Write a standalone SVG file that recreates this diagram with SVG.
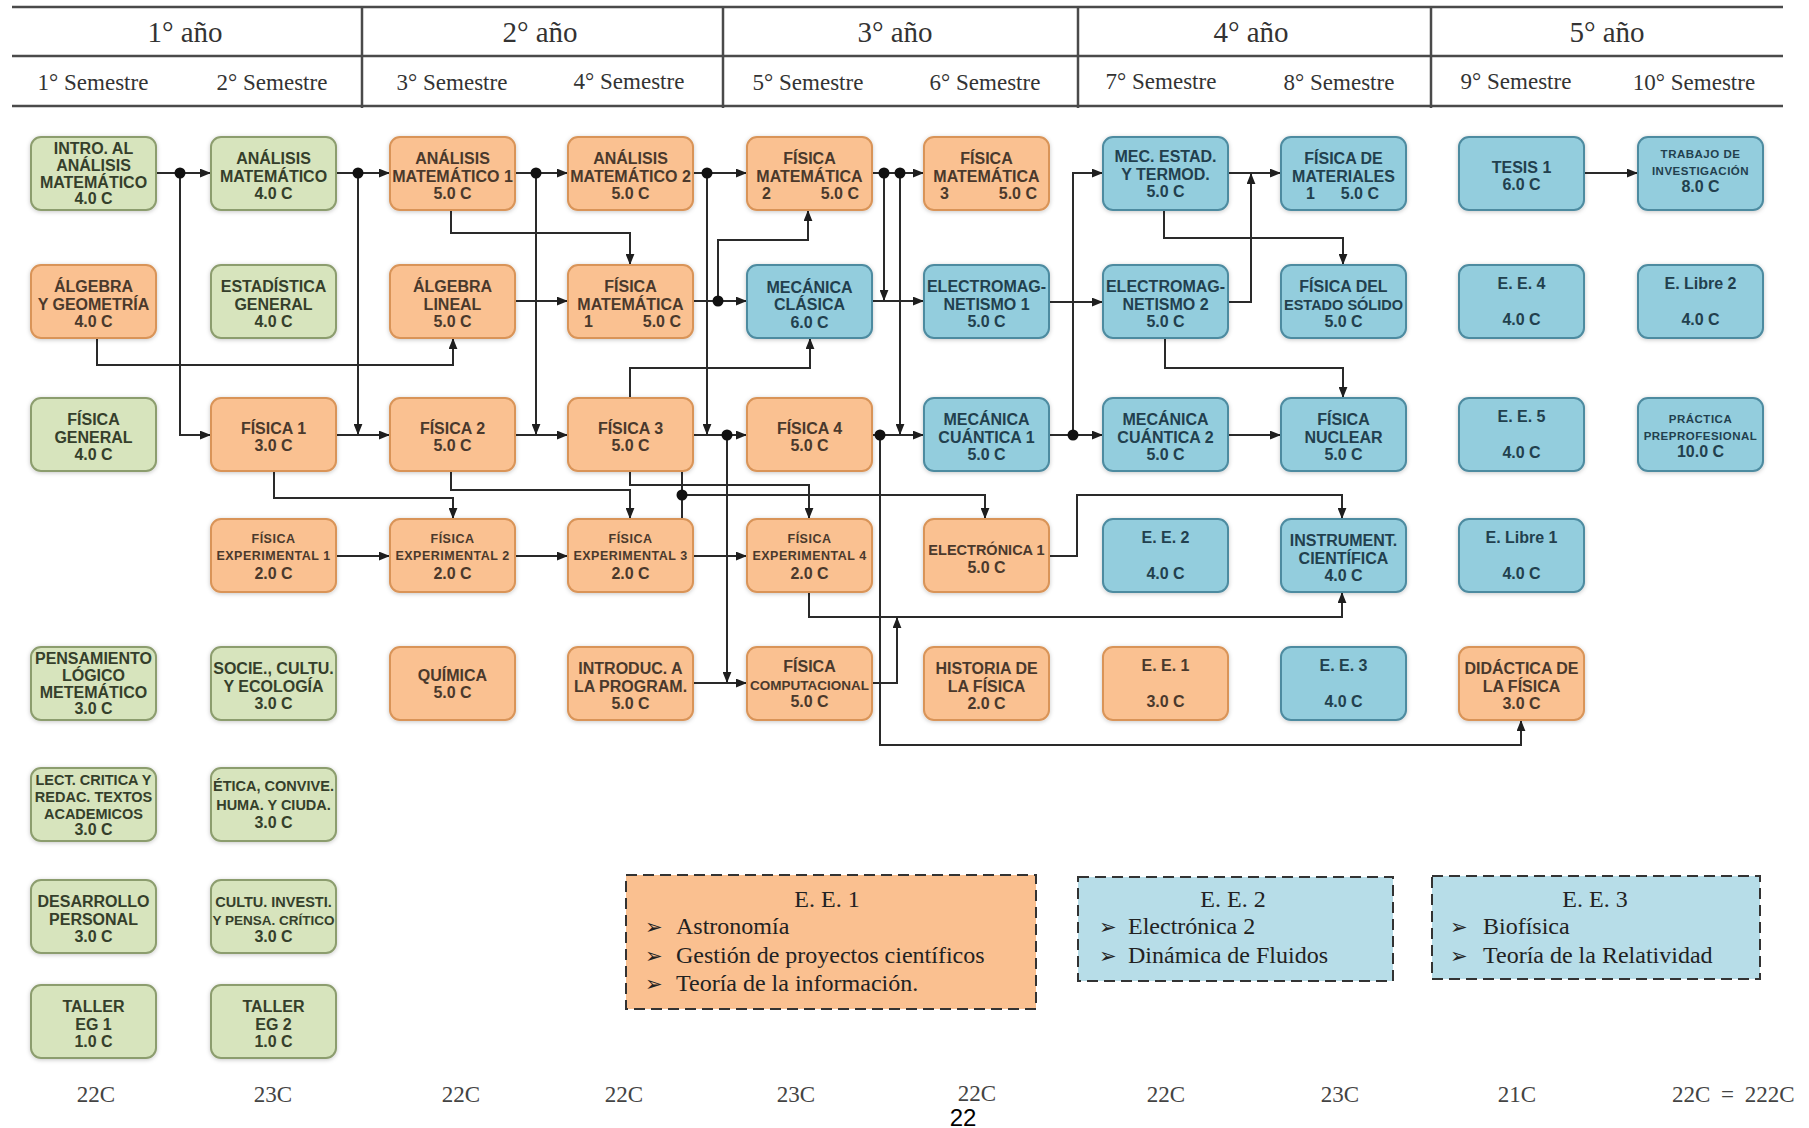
<svg xmlns="http://www.w3.org/2000/svg" width="1809" height="1128" viewBox="0 0 1809 1128">
<style>
.hdr line{stroke:#4a4a4a;stroke-width:2.5}
.yr{font-family:"Liberation Serif","Times New Roman",serif;font-size:29px;fill:#333;text-anchor:middle}
.sem{font-family:"Liberation Serif","Times New Roman",serif;font-size:23px;fill:#333;text-anchor:middle}
.node rect{stroke-width:2;filter:url(#sh)}
.g rect{fill:#d7e4bd;stroke:#8c9d6e}
.o rect{fill:#fac191;stroke:#d99458}
.b rect{fill:#93cddd;stroke:#4d8ba0}
.node text{font-family:"Liberation Sans",Arial,sans-serif;font-weight:bold;font-size:16px;text-anchor:middle}
.g text{fill:#353f2b}
.o text{fill:#4a392c}
.b text{fill:#22404e}
.node text.l{text-anchor:start}
.node text.r{text-anchor:end}
.node text.s14{font-size:14.5px}
.node text.s13{font-size:13.5px}
.node text.sm{font-size:12.5px;letter-spacing:0.5px}
.node text.xs{font-size:11.5px;letter-spacing:0.5px}
.c path{fill:none;stroke:#2a2a2a;stroke-width:2}
.c path.a{marker-end:url(#arr)}
.c circle{fill:#111}
.leg rect{stroke:#333;stroke-width:2;stroke-dasharray:11 6}
.leg text{font-family:"Liberation Serif","Times New Roman",serif;font-size:24px;fill:#222}
.leg text.t{text-anchor:middle}
.leg text.bul{font-family:"DejaVu Sans",sans-serif;font-size:21px;font-weight:bold}
.cr{font-family:"Liberation Serif","Times New Roman",serif;font-size:23px;fill:#444;text-anchor:middle}
</style>
<defs>
<filter id="sh" x="-10%" y="-15%" width="120%" height="135%">
<feDropShadow dx="0" dy="1" stdDeviation="2" flood-color="#000" flood-opacity="0.22"/>
</filter>
<marker id="arr" viewBox="0 0 10 8" refX="10" refY="4" markerWidth="11" markerHeight="9" markerUnits="userSpaceOnUse" orient="auto">
<path d="M0,0 L10,4 L0,8 z" fill="#1e1e1e"/>
</marker>
</defs>
<rect width="1809" height="1128" fill="#fff"/>

<g id="header" class="hdr">
<line x1="12" y1="7" x2="1783" y2="7"/>
<line x1="12" y1="56" x2="1783" y2="56"/>
<line x1="12" y1="106" x2="1783" y2="106"/>
<line x1="362" y1="7" x2="362" y2="108"/>
<line x1="723" y1="7" x2="723" y2="108"/>
<line x1="1078" y1="7" x2="1078" y2="108"/>
<line x1="1431" y1="7" x2="1431" y2="108"/>
<text class="yr" x="185" y="42">1° año</text>
<text class="yr" x="540" y="42">2° año</text>
<text class="yr" x="895" y="42">3° año</text>
<text class="yr" x="1251" y="42">4° año</text>
<text class="yr" x="1607" y="42">5° año</text>
<text class="sem" x="93" y="90">1° Semestre</text>
<text class="sem" x="272" y="90">2° Semestre</text>
<text class="sem" x="452" y="90">3° Semestre</text>
<text class="sem" x="629" y="89">4° Semestre</text>
<text class="sem" x="808" y="90">5° Semestre</text>
<text class="sem" x="985" y="90">6° Semestre</text>
<text class="sem" x="1161" y="89">7° Semestre</text>
<text class="sem" x="1339" y="90">8° Semestre</text>
<text class="sem" x="1516" y="89">9° Semestre</text>
<text class="sem" x="1694" y="90">10° Semestre</text>
</g>

<g id="connectors" class="c">
<path class="a" d="M156,173 H211"/>
<path class="a" d="M180,173 V435 H211"/>
<path class="a" d="M336,173 H390"/>
<path class="a" d="M358,173 V435"/>
<path class="a" d="M515,173 H568"/>
<path class="a" d="M536,173 V435"/>
<path class="a" d="M693,173 H747"/>
<path class="a" d="M707,173 V435"/>
<path class="a" d="M872,173 H924"/>
<path class="a" d="M884,173 V301"/>
<path class="a" d="M900,173 V435"/>
<path class="a" d="M451,210 V233 H630 V265"/>
<path class="a" d="M97,338 V365 H453 V338"/>
<path class="a" d="M515,301 H568"/>
<path class="a" d="M693,301 H747"/>
<path class="a" d="M718,301 V240 H808 V210"/>
<path class="a" d="M630,398 V368 H810 V338"/>
<path class="a" d="M872,301 H924"/>
<path class="a" d="M336,435 H390"/>
<path class="a" d="M515,435 H568"/>
<path class="a" d="M693,435 H747"/>
<path class="a" d="M727,435 V683"/>
<path class="a" d="M872,435 H924"/>
<path class="a" d="M880,435 V745 H1521 V720"/>
<path class="a" d="M274,472 V498 H453 V519"/>
<path class="a" d="M451,472 V490 H630 V519"/>
<path class="a" d="M630,472 V485 H809 V519"/>
<path d="M682,472 V519"/>
<path class="a" d="M682,495 H985 V519"/>
<path class="a" d="M336,556 H390"/>
<path class="a" d="M515,556 H568"/>
<path class="a" d="M693,556 H747"/>
<path class="a" d="M809,592 V617 H1342 V592"/>
<path class="a" d="M872,683 H897 V617"/>
<path class="a" d="M693,683 H747"/>
<path class="a" d="M1049,556 H1077 V495 H1342 V519"/>
<path class="a" d="M1049,435 H1103"/>
<path class="a" d="M1073,435 V173 H1103"/>
<path class="a" d="M1049,302 H1103"/>
<path class="a" d="M1228,173 H1281"/>
<path class="a" d="M1228,302 H1251 V173"/>
<path class="a" d="M1164,210 V238 H1343 V265"/>
<path class="a" d="M1165,338 V368 H1343 V398"/>
<path class="a" d="M1228,435 H1281"/>
<path class="a" d="M1584,173 H1638"/>
<circle cx="180" cy="173" r="5.5"/>
<circle cx="358" cy="173" r="5.5"/>
<circle cx="536" cy="173" r="5.5"/>
<circle cx="707" cy="173" r="5.5"/>
<circle cx="884" cy="173" r="5.5"/>
<circle cx="900" cy="173" r="5.5"/>
<circle cx="718" cy="301" r="5.5"/>
<circle cx="727" cy="435" r="5.5"/>
<circle cx="880" cy="435" r="5.5"/>
<circle cx="682" cy="495" r="5.5"/>
<circle cx="1073" cy="435" r="5.5"/>
</g>

<!-- Column 1 -->
<g id="n-intro-analisis" class="node g"><rect x="31" y="137" width="125" height="73" rx="10"/>
<text x="93.5" y="153.5">INTRO. AL</text><text x="93.5" y="170.5">ANÁLISIS</text><text x="93.5" y="187.5">MATEMÁTICO</text><text x="93.5" y="204">4.0 C</text></g>
<g id="n-algebra-geometria" class="node o"><rect x="31" y="265" width="125" height="73" rx="10"/>
<text x="93.5" y="291.5">ÁLGEBRA</text><text x="93.5" y="309.5">Y GEOMETRÍA</text><text x="93.5" y="326.5">4.0 C</text></g>
<g id="n-fisica-general" class="node g"><rect x="31" y="398" width="125" height="73" rx="10"/>
<text x="93.5" y="424.5">FÍSICA</text><text x="93.5" y="442.5">GENERAL</text><text x="93.5" y="459.5">4.0 C</text></g>
<g id="n-pensamiento" class="node g"><rect x="31" y="647" width="125" height="73" rx="10"/>
<text x="93.5" y="663.5">PENSAMIENTO</text><text x="93.5" y="680.5">LÓGICO</text><text x="93.5" y="697.5">METEMÁTICO</text><text x="93.5" y="714">3.0 C</text></g>
<g id="n-lectura" class="node g"><rect x="31" y="768" width="125" height="73" rx="10"/>
<text class="s14" x="93.5" y="784.5">LECT. CRITICA Y</text><text class="s14" x="93.5" y="801.5">REDAC. TEXTOS</text><text class="s14" x="93.5" y="818.5">ACADEMICOS</text><text x="93.5" y="835">3.0 C</text></g>
<g id="n-desarrollo" class="node g"><rect x="31" y="880" width="125" height="73" rx="10"/>
<text x="93.5" y="906.5">DESARROLLO</text><text x="93.5" y="924.5">PERSONAL</text><text x="93.5" y="941.5">3.0 C</text></g>
<g id="n-taller1" class="node g"><rect x="31" y="985" width="125" height="73" rx="10"/>
<text x="93.5" y="1011.5">TALLER</text><text x="93.5" y="1029.5">EG 1</text><text x="93.5" y="1046.5">1.0 C</text></g>

<!-- Column 2 -->
<g id="n-analisis" class="node g"><rect x="211" y="137" width="125" height="73" rx="10"/>
<text x="273.5" y="163.5">ANÁLISIS</text><text x="273.5" y="181.5">MATEMÁTICO</text><text x="273.5" y="198.5">4.0 C</text></g>
<g id="n-estadistica" class="node g"><rect x="211" y="265" width="125" height="73" rx="10"/>
<text x="273.5" y="291.5">ESTADÍSTICA</text><text x="273.5" y="309.5">GENERAL</text><text x="273.5" y="326.5">4.0 C</text></g>
<g id="n-fisica1" class="node o"><rect x="211" y="398" width="125" height="73" rx="10"/>
<text x="273.5" y="433.5">FÍSICA 1</text><text x="273.5" y="450.5">3.0 C</text></g>
<g id="n-exp1" class="node o"><rect x="211" y="519" width="125" height="73" rx="10"/>
<text class="sm" x="273.5" y="542.5">FÍSICA</text><text class="sm" x="273.5" y="560">EXPERIMENTAL 1</text><text x="273.5" y="578.5">2.0 C</text></g>
<g id="n-sociedad" class="node g"><rect x="211" y="647" width="125" height="73" rx="10"/>
<text x="273.5" y="673.5">SOCIE., CULTU.</text><text x="273.5" y="691.5">Y ECOLOGÍA</text><text x="273.5" y="708.5">3.0 C</text></g>
<g id="n-etica" class="node g"><rect x="211" y="768" width="125" height="73" rx="10"/>
<text class="s14" x="273.5" y="791">ÉTICA, CONVIVE.</text><text class="s14" x="273.5" y="810">HUMA. Y CIUDA.</text><text x="273.5" y="828">3.0 C</text></g>
<g id="n-cultura" class="node g"><rect x="211" y="880" width="125" height="73" rx="10"/>
<text class="s14" x="273.5" y="906.5">CULTU. INVESTI.</text><text class="s13" x="273.5" y="924.5">Y PENSA. CRÍTICO</text><text x="273.5" y="941.5">3.0 C</text></g>
<g id="n-taller2" class="node g"><rect x="211" y="985" width="125" height="73" rx="10"/>
<text x="273.5" y="1011.5">TALLER</text><text x="273.5" y="1029.5">EG 2</text><text x="273.5" y="1046.5">1.0 C</text></g>

<!-- Column 3 -->
<g id="n-analisis1" class="node o"><rect x="390" y="137" width="125" height="73" rx="10"/>
<text x="452.5" y="163.5">ANÁLISIS</text><text x="452.5" y="181.5">MATEMÁTICO 1</text><text x="452.5" y="198.5">5.0 C</text></g>
<g id="n-algebra-lineal" class="node o"><rect x="390" y="265" width="125" height="73" rx="10"/>
<text x="452.5" y="291.5">ÁLGEBRA</text><text x="452.5" y="309.5">LINEAL</text><text x="452.5" y="326.5">5.0 C</text></g>
<g id="n-fisica2" class="node o"><rect x="390" y="398" width="125" height="73" rx="10"/>
<text x="452.5" y="433.5">FÍSICA 2</text><text x="452.5" y="450.5">5.0 C</text></g>
<g id="n-exp2" class="node o"><rect x="390" y="519" width="125" height="73" rx="10"/>
<text class="sm" x="452.5" y="542.5">FÍSICA</text><text class="sm" x="452.5" y="560">EXPERIMENTAL 2</text><text x="452.5" y="578.5">2.0 C</text></g>
<g id="n-quimica" class="node o"><rect x="390" y="647" width="125" height="73" rx="10"/>
<text x="452.5" y="681">QUÍMICA</text><text x="452.5" y="698">5.0 C</text></g>

<!-- Column 4 -->
<g id="n-analisis2" class="node o"><rect x="568" y="137" width="125" height="73" rx="10"/>
<text x="630.5" y="163.5">ANÁLISIS</text><text x="630.5" y="181.5">MATEMÁTICO 2</text><text x="630.5" y="198.5">5.0 C</text></g>
<g id="n-fismat1" class="node o"><rect x="568" y="265" width="125" height="73" rx="10"/>
<text x="630.5" y="291.5">FÍSICA</text><text x="630.5" y="309.5">MATEMÁTICA</text><text class="l" x="584" y="326.5">1</text><text class="r" x="681" y="326.5">5.0 C</text></g>
<g id="n-fisica3" class="node o"><rect x="568" y="398" width="125" height="73" rx="10"/>
<text x="630.5" y="433.5">FÍSICA 3</text><text x="630.5" y="450.5">5.0 C</text></g>
<g id="n-exp3" class="node o"><rect x="568" y="519" width="125" height="73" rx="10"/>
<text class="sm" x="630.5" y="542.5">FÍSICA</text><text class="sm" x="630.5" y="560">EXPERIMENTAL 3</text><text x="630.5" y="578.5">2.0 C</text></g>
<g id="n-intro-program" class="node o"><rect x="568" y="647" width="125" height="73" rx="10"/>
<text x="630.5" y="673.5">INTRODUC. A</text><text x="630.5" y="691.5">LA PROGRAM.</text><text x="630.5" y="708.5">5.0 C</text></g>

<!-- Column 5 -->
<g id="n-fismat2" class="node o"><rect x="747" y="137" width="125" height="73" rx="10"/>
<text x="809.5" y="163.5">FÍSICA</text><text x="809.5" y="181.5">MATEMÁTICA</text><text class="l" x="762" y="198.5">2</text><text class="r" x="859" y="198.5">5.0 C</text></g>
<g id="n-mec-clasica" class="node b"><rect x="747" y="265" width="125" height="73" rx="10"/>
<text x="809.5" y="292.5">MECÁNICA</text><text x="809.5" y="310">CLÁSICA</text><text x="809.5" y="327.5">6.0 C</text></g>
<g id="n-fisica4" class="node o"><rect x="747" y="398" width="125" height="73" rx="10"/>
<text x="809.5" y="433.5">FÍSICA 4</text><text x="809.5" y="450.5">5.0 C</text></g>
<g id="n-exp4" class="node o"><rect x="747" y="519" width="125" height="73" rx="10"/>
<text class="sm" x="809.5" y="542.5">FÍSICA</text><text class="sm" x="809.5" y="560">EXPERIMENTAL 4</text><text x="809.5" y="578.5">2.0 C</text></g>
<g id="n-fis-comp" class="node o"><rect x="747" y="647" width="125" height="73" rx="10"/>
<text x="809.5" y="672">FÍSICA</text><text class="s13" x="809.5" y="690">COMPUTACIONAL</text><text x="809.5" y="707">5.0 C</text></g>

<!-- Column 6 -->
<g id="n-fismat3" class="node o"><rect x="924" y="137" width="125" height="73" rx="10"/>
<text x="986.5" y="163.5">FÍSICA</text><text x="986.5" y="181.5">MATEMÁTICA</text><text class="l" x="940" y="198.5">3</text><text class="r" x="1037" y="198.5">5.0 C</text></g>
<g id="n-electromag1" class="node b"><rect x="924" y="265" width="125" height="73" rx="10"/>
<text x="986.5" y="291.5">ELECTROMAG-</text><text x="986.5" y="309.5">NETISMO 1</text><text x="986.5" y="326.5">5.0 C</text></g>
<g id="n-mec-cuantica1" class="node b"><rect x="924" y="398" width="125" height="73" rx="10"/>
<text x="986.5" y="424.5">MECÁNICA</text><text x="986.5" y="442.5">CUÁNTICA 1</text><text x="986.5" y="459.5">5.0 C</text></g>
<g id="n-electronica1" class="node o"><rect x="924" y="519" width="125" height="73" rx="10"/>
<text class="s14" x="986.5" y="555">ELECTRÓNICA 1</text><text x="986.5" y="572.5">5.0 C</text></g>
<g id="n-historia" class="node o"><rect x="924" y="647" width="125" height="73" rx="10"/>
<text x="986.5" y="673.5">HISTORIA DE</text><text x="986.5" y="691.5">LA FÍSICA</text><text x="986.5" y="708.5">2.0 C</text></g>

<!-- Column 7 -->
<g id="n-mec-estad" class="node b"><rect x="1103" y="137" width="125" height="73" rx="10"/>
<text x="1165.5" y="162">MEC. ESTAD.</text><text x="1165.5" y="179.5">Y TERMOD.</text><text x="1165.5" y="196.5">5.0 C</text></g>
<g id="n-electromag2" class="node b"><rect x="1103" y="265" width="125" height="73" rx="10"/>
<text x="1165.5" y="291.5">ELECTROMAG-</text><text x="1165.5" y="309.5">NETISMO 2</text><text x="1165.5" y="326.5">5.0 C</text></g>
<g id="n-mec-cuantica2" class="node b"><rect x="1103" y="398" width="125" height="73" rx="10"/>
<text x="1165.5" y="424.5">MECÁNICA</text><text x="1165.5" y="442.5">CUÁNTICA 2</text><text x="1165.5" y="459.5">5.0 C</text></g>
<g id="n-ee2" class="node b"><rect x="1103" y="519" width="125" height="73" rx="10"/>
<text x="1165.5" y="542.5">E. E. 2</text><text x="1165.5" y="578.5">4.0 C</text></g>
<g id="n-ee1" class="node o"><rect x="1103" y="647" width="125" height="73" rx="10"/>
<text x="1165.5" y="670.5">E. E. 1</text><text x="1165.5" y="706.5">3.0 C</text></g>

<!-- Column 8 -->
<g id="n-fis-materiales" class="node b"><rect x="1281" y="137" width="125" height="73" rx="10"/>
<text x="1343.5" y="163.5">FÍSICA DE</text><text x="1343.5" y="181.5">MATERIALES</text><text class="l" x="1306" y="198.5">1</text><text class="r" x="1379" y="198.5">5.0 C</text></g>
<g id="n-estado-solido" class="node b"><rect x="1281" y="265" width="125" height="73" rx="10"/>
<text x="1343.5" y="291.5">FÍSICA DEL</text><text class="s14" x="1343.5" y="309.5">ESTADO SÓLIDO</text><text x="1343.5" y="326.5">5.0 C</text></g>
<g id="n-nuclear" class="node b"><rect x="1281" y="398" width="125" height="73" rx="10"/>
<text x="1343.5" y="424.5">FÍSICA</text><text x="1343.5" y="442.5">NUCLEAR</text><text x="1343.5" y="459.5">5.0 C</text></g>
<g id="n-instrument" class="node b"><rect x="1281" y="519" width="125" height="73" rx="10"/>
<text x="1343.5" y="545.5">INSTRUMENT.</text><text x="1343.5" y="563.5">CIENTÍFICA</text><text x="1343.5" y="580.5">4.0 C</text></g>
<g id="n-ee3" class="node b"><rect x="1281" y="647" width="125" height="73" rx="10"/>
<text x="1343.5" y="670.5">E. E. 3</text><text x="1343.5" y="706.5">4.0 C</text></g>

<!-- Column 9 -->
<g id="n-tesis1" class="node b"><rect x="1459" y="137" width="125" height="73" rx="10"/>
<text x="1521.5" y="173">TESIS 1</text><text x="1521.5" y="190">6.0 C</text></g>
<g id="n-ee4" class="node b"><rect x="1459" y="265" width="125" height="73" rx="10"/>
<text x="1521.5" y="288.5">E. E. 4</text><text x="1521.5" y="324.5">4.0 C</text></g>
<g id="n-ee5" class="node b"><rect x="1459" y="398" width="125" height="73" rx="10"/>
<text x="1521.5" y="421.5">E. E. 5</text><text x="1521.5" y="457.5">4.0 C</text></g>
<g id="n-libre1" class="node b"><rect x="1459" y="519" width="125" height="73" rx="10"/>
<text x="1521.5" y="542.5">E. Libre 1</text><text x="1521.5" y="578.5">4.0 C</text></g>
<g id="n-didactica" class="node o"><rect x="1459" y="647" width="125" height="73" rx="10"/>
<text x="1521.5" y="673.5">DIDÁCTICA DE</text><text x="1521.5" y="691.5">LA FÍSICA</text><text x="1521.5" y="708.5">3.0 C</text></g>

<!-- Column 10 -->
<g id="n-trabajo" class="node b"><rect x="1638" y="137" width="125" height="73" rx="10"/>
<text class="xs" x="1700.5" y="158">TRABAJO DE</text><text class="xs" x="1700.5" y="175">INVESTIGACIÓN</text><text x="1700.5" y="192">8.0 C</text></g>
<g id="n-libre2" class="node b"><rect x="1638" y="265" width="125" height="73" rx="10"/>
<text x="1700.5" y="288.5">E. Libre 2</text><text x="1700.5" y="324.5">4.0 C</text></g>
<g id="n-practica" class="node b"><rect x="1638" y="398" width="125" height="73" rx="10"/>
<text class="xs" x="1700.5" y="423">PRÁCTICA</text><text class="xs" x="1700.5" y="440">PREPROFESIONAL</text><text x="1700.5" y="457">10.0 C</text></g>

<!-- Legends -->
<g id="legend-ee1" class="leg">
<rect x="626" y="875" width="410" height="134" fill="#fac090"/>
<text class="t" x="827" y="907">E. E. 1</text>
<text class="bul" x="645" y="934">➢</text><text x="676" y="934">Astronomía</text>
<text class="bul" x="645" y="963">➢</text><text x="676" y="963">Gestión de proyectos científicos</text>
<text class="bul" x="645" y="991">➢</text><text x="676" y="991">Teoría de la información.</text>
</g>
<g id="legend-ee2" class="leg">
<rect x="1078" y="877" width="315" height="104" fill="#b7dde8"/>
<text class="t" x="1233" y="907">E. E. 2</text>
<text class="bul" x="1099" y="934">➢</text><text x="1128" y="934">Electrónica 2</text>
<text class="bul" x="1099" y="963">➢</text><text x="1128" y="963">Dinámica de Fluidos</text>
</g>
<g id="legend-ee3" class="leg">
<rect x="1432" y="876" width="328" height="103" fill="#b7dde8"/>
<text class="t" x="1595" y="907">E. E. 3</text>
<text class="bul" x="1450" y="934">➢</text><text x="1483" y="934">Biofísica</text>
<text class="bul" x="1450" y="963">➢</text><text x="1483" y="963">Teoría de la Relatividad</text>
</g>

<g id="credits">
<text class="cr" x="96" y="1102">22C</text>
<text class="cr" x="273" y="1102">23C</text>
<text class="cr" x="461" y="1102">22C</text>
<text class="cr" x="624" y="1102">22C</text>
<text class="cr" x="796" y="1102">23C</text>
<text class="cr" x="977" y="1101">22C</text>
<text class="cr" x="1166" y="1102">22C</text>
<text class="cr" x="1340" y="1102">23C</text>
<text class="cr" x="1517" y="1102">21C</text>
<text class="cr" x="1672" y="1102" style="text-anchor:start;word-spacing:5px">22C = 222C</text>
<text x="963" y="1126" style="font-family:'Liberation Sans',Arial,sans-serif;font-size:24px;fill:#000;text-anchor:middle">22</text>
</g>
</svg>
